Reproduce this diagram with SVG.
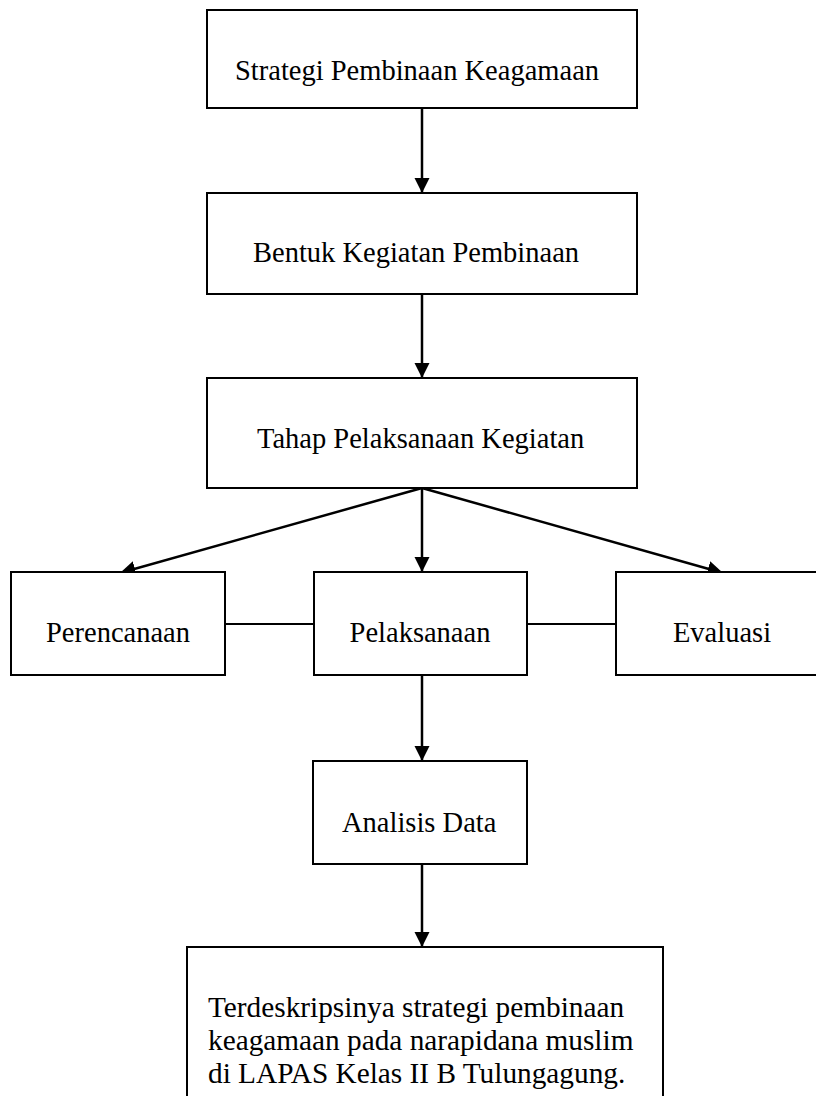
<svg xmlns="http://www.w3.org/2000/svg" width="816" height="1096" viewBox="0 0 816 1096">
<style>
.box{fill:#fff;stroke:#000;stroke-width:2}
.lbl{font-family:"Liberation Serif","Times New Roman",serif;font-size:28.5px;fill:#000}
.big{font-size:29.3px}
.con{stroke:#000;stroke-width:2.5;fill:none}
.thin{stroke-width:2}
</style>
<defs>
<marker id="ah" viewBox="0 0 10 10" refX="10" refY="5" markerWidth="6.2" markerHeight="6.2" markerUnits="strokeWidth" orient="auto">
<path d="M0,0 L10,5 L0,10 z" fill="#000"/>
</marker>
</defs>
<rect width="816" height="1096" fill="#fff"/>
<g id="connectors">
<line class="con" x1="422" y1="108" x2="422" y2="193" marker-end="url(#ah)"/>
<line class="con" x1="422" y1="294" x2="422" y2="378" marker-end="url(#ah)"/>
<line class="con" x1="422" y1="488" x2="422" y2="572" marker-end="url(#ah)"/>
<line class="con" x1="422" y1="488" x2="120" y2="573" marker-end="url(#ah)"/>
<line class="con" x1="422" y1="488" x2="723" y2="573" marker-end="url(#ah)"/>
<line class="con thin" x1="225" y1="624" x2="314" y2="624"/>
<line class="con thin" x1="527" y1="624" x2="616" y2="624"/>
<line class="con" x1="422" y1="675" x2="422" y2="761" marker-end="url(#ah)"/>
<line class="con" x1="422" y1="864" x2="422" y2="947" marker-end="url(#ah)"/>
</g>
<g id="n1"><rect class="box" x="207" y="10" width="430" height="98"/><text class="lbl" x="235" y="80">Strategi Pembinaan Keagamaan</text></g>
<g id="n2"><rect class="box" x="207" y="193" width="430" height="101"/><text class="lbl" x="253" y="262">Bentuk Kegiatan Pembinaan</text></g>
<g id="n3"><rect class="box" x="207" y="378" width="430" height="110"/><text class="lbl" x="257" y="448">Tahap Pelaksanaan Kegiatan</text></g>
<g id="n4"><rect class="box" x="11" y="572" width="214" height="103"/><text class="lbl" x="118" y="642" text-anchor="middle">Perencanaan</text></g>
<g id="n5"><rect class="box" x="314" y="572" width="213" height="103"/><text class="lbl" x="420" y="642" text-anchor="middle">Pelaksanaan</text></g>
<g id="n6"><rect class="box" x="616" y="572" width="220" height="103"/><text class="lbl" x="722" y="642" text-anchor="middle">Evaluasi</text></g>
<g id="n7"><rect class="box" x="313" y="761" width="214" height="103"/><text class="lbl" x="342" y="832">Analisis Data</text></g>
<g id="n8"><rect class="box" x="187" y="947" width="476" height="170"/>
<text class="lbl big" x="208" y="1017">Terdeskripsinya strategi pembinaan</text>
<text class="lbl big" x="208" y="1050">keagamaan pada narapidana muslim</text>
<text class="lbl big" x="208" y="1083">di LAPAS Kelas II B Tulungagung.</text>
</g>
</svg>
